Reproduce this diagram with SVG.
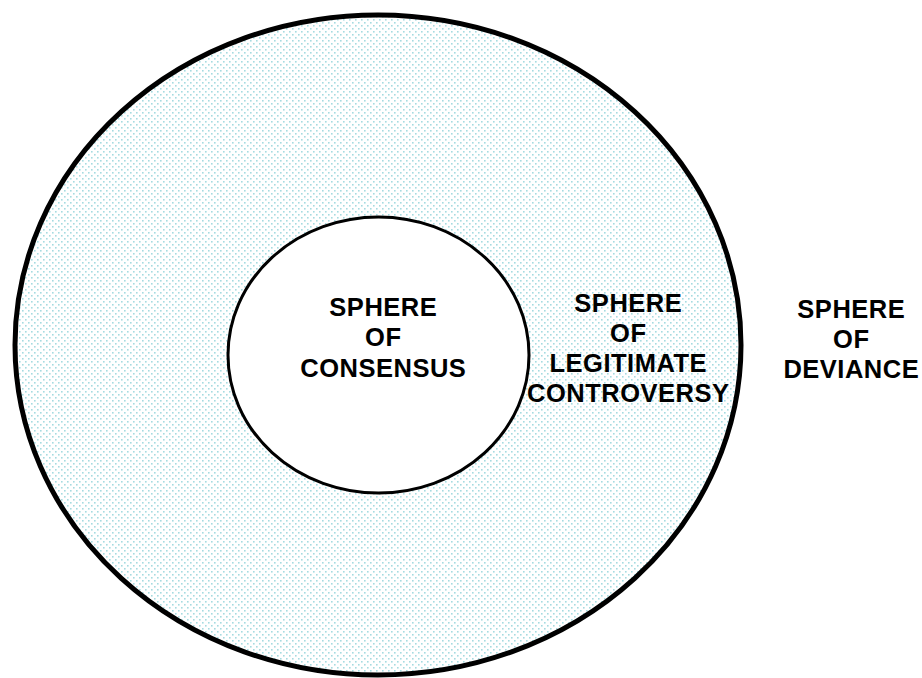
<svg xmlns="http://www.w3.org/2000/svg" width="922" height="678" viewBox="0 0 922 678">
<defs>
<pattern id="dots" x="0" y="0" width="6" height="6" patternUnits="userSpaceOnUse">
<rect x="1" y="1" width="1.6" height="1.6" fill="#a6dbe0"/>
<rect x="4" y="4" width="1.6" height="1.6" fill="#a6dbe0"/>
</pattern>
<style>
.t{font-family:"Liberation Sans",Arial,sans-serif;font-weight:bold;font-size:25.5px;letter-spacing:0.5px;fill:#000;text-anchor:middle}
</style>
</defs>
<rect width="922" height="678" fill="#fff"/>
<g id="legitimate-controversy">
<ellipse cx="378" cy="345" rx="363" ry="330" fill="url(#dots)" stroke="#000" stroke-width="5"/>
<text class="t" x="628.3" y="312">SPHERE</text>
<text class="t" x="628.3" y="342">OF</text>
<text class="t" x="628.3" y="372">LEGITIMATE</text>
<text class="t" x="628.3" y="402">CONTROVERSY</text>
</g>
<g id="consensus">
<ellipse cx="378.5" cy="355" rx="150.5" ry="138" fill="#fff" stroke="#000" stroke-width="3"/>
<text class="t" x="383.3" y="316">SPHERE</text>
<text class="t" x="383.3" y="346">OF</text>
<text class="t" x="383.3" y="377">CONSENSUS</text>
</g>
<g id="deviance">
<text class="t" x="851.3" y="318">SPHERE</text>
<text class="t" x="851.3" y="348">OF</text>
<text class="t" x="851.3" y="378">DEVIANCE</text>
</g>
<g id="connectors"/>
</svg>
